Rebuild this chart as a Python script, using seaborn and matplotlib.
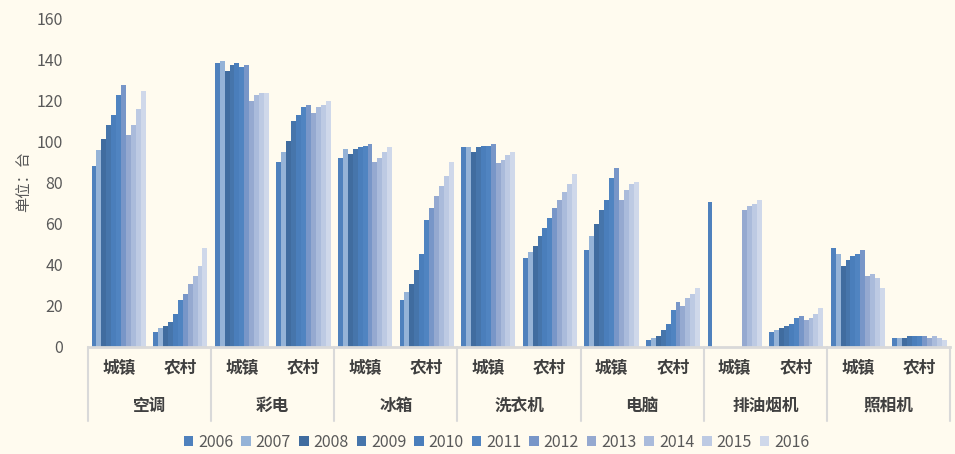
import pandas as pd
import matplotlib
matplotlib.use("Agg")
import matplotlib.pyplot as plt
import matplotlib.transforms as mtransforms
import seaborn as sns
import numpy as np

appliances = ["空调", "彩电", "冰箱", "洗衣机", "电脑", "排油烟机", "照相机"]
areas = ["城镇", "农村"]
years = [str(y) for y in range(2006, 2017)]

# ownership per 100 households, one list per (appliance, area), 2006..2016
nan = np.nan
values = {
    ("空调", "城镇"): [88.3, 96.0, 101.0, 107.8, 112.7, 122.4, 127.3, 103.0, 107.8, 115.6, 124.4],
    ("空调", "农村"): [7.3, 9.3, 10.2, 12.2, 16.1, 22.9, 25.9, 30.7, 34.6, 39.5, 48.3],
    ("彩电", "城镇"): [138.0, 139.0, 134.1, 137.0, 138.0, 136.0, 137.0, 119.5, 122.4, 123.4, 123.4],
    ("彩电", "农村"): [90.2, 95.1, 100.0, 109.8, 112.7, 116.6, 117.6, 113.7, 116.6, 117.6, 119.5],
    ("冰箱", "城镇"): [92.2, 96.1, 94.1, 96.1, 97.1, 98.0, 99.0, 90.2, 92.2, 95.1, 97.1],
    ("冰箱", "农村"): [22.9, 26.8, 30.7, 37.6, 45.4, 62.0, 67.8, 73.7, 78.5, 83.4, 90.2],
    ("洗衣机", "城镇"): [97.1, 97.1, 95.1, 97.1, 98.0, 98.0, 99.0, 89.3, 91.2, 93.2, 95.1],
    ("洗衣机", "农村"): [43.4, 46.3, 49.3, 54.1, 58.0, 62.9, 67.8, 71.7, 75.6, 79.5, 84.4],
    ("电脑", "城镇"): [47.3, 54.1, 60.0, 66.8, 71.7, 82.4, 87.3, 71.7, 76.6, 79.5, 80.5],
    ("电脑", "农村"): [3.4, 4.4, 5.4, 8.3, 11.2, 18.0, 22.0, 20.0, 23.9, 25.9, 28.8],
    ("排油烟机", "城镇"): [70.7, nan, nan, nan, nan, nan, nan, 66.8, 68.8, 69.8, 71.7],
    ("排油烟机", "农村"): [7.3, 8.3, 9.3, 10.2, 11.2, 14.1, 15.1, 13.2, 14.1, 16.1, 19.0],
    ("照相机", "城镇"): [48.3, 45.4, 39.5, 42.4, 44.4, 45.4, 47.3, 34.6, 35.6, 33.7, 28.8],
    ("照相机", "农村"): [4.4, 4.4, 4.4, 5.4, 5.4, 5.4, 5.4, 4.4, 5.4, 4.4, 3.4],
}

colors = ["#4F81BD", "#95B3D7", "#406C9F", "#4675AB", "#4A7EBB", "#5084C1",
          "#7896C8", "#95A9D0", "#AABBDB", "#BDCAE3", "#CFD8EA"]

rows = []
for app in appliances:
    for area in areas:
        for yr, v in zip(years, values[(app, area)]):
            if not np.isnan(v):
                rows.append({"slot": f"{app}-{area}", "year": yr, "value": v})
df = pd.DataFrame(rows)
slots = [f"{a}-{b}" for a in appliances for b in areas]

sns.set_style("white")
plt.rcParams["font.family"] = ["Noto Sans CJK SC", "DejaVu Sans"]
bg = "#FFFBEF"
grey = "#595959"

fig = plt.figure(figsize=(9.55, 4.54), dpi=100, facecolor=bg)
ax = fig.add_axes([0.092, 0.2357, 0.903, 0.7243])
ax.set_facecolor(bg)

sns.barplot(data=df, x="slot", y="value", hue="year", order=slots,
            hue_order=years, palette=colors, width=0.88, gap=0,
            saturation=1, linewidth=0, errorbar=None, ax=ax, legend=True)

ax.set_xlim(-0.5, len(slots) - 0.5)
ax.set_ylim(0, 160)
ax.set_yticks(range(0, 161, 20))
ax.tick_params(axis="y", length=0, labelsize=11.5, labelcolor=grey, pad=18)
ax.tick_params(axis="x", length=0)
ax.set_xticks(range(len(slots)))
ax.set_xticklabels([])
ax.set_xlabel("")
ax.set_ylabel("")
fig.text(24 / 955, 1 - 182 / 454, "单位：台", rotation=90, ha="center", va="center",
         fontsize=11, color=grey)
for s in ["top", "right", "left"]:
    ax.spines[s].set_visible(False)
ax.spines["bottom"].set_color("#D9D9D9")
ax.spines["bottom"].set_linewidth(2)

trans = mtransforms.blended_transform_factory(ax.transData, ax.transAxes)
for i, s in enumerate(slots):
    ax.text(i, -0.062, s.split("-")[1], transform=trans, ha="center", va="center",
            fontsize=12, fontweight="bold", color="#404040")
for j, app in enumerate(appliances):
    ax.text(2 * j + 0.5, -0.178, app, transform=trans, ha="center", va="center",
            fontsize=12, fontweight="bold", color="#404040")
for k in range(len(appliances) + 1):
    ax.plot([2 * k - 0.5, 2 * k - 0.5], [0, -0.225], transform=trans,
            color="#D9D9D9", lw=1.5, clip_on=False)

handles, labels = ax.get_legend_handles_labels()
ax.get_legend().remove()
fig.legend(handles, labels, loc="center", bbox_to_anchor=(0.52, 0.026), ncol=11,
           frameon=False, fontsize=11.5, handlelength=0.6, handleheight=0.6,
           handletextpad=0.3, columnspacing=0.5, labelcolor=grey)

fig.savefig("out.png", dpi=100, facecolor=bg)
